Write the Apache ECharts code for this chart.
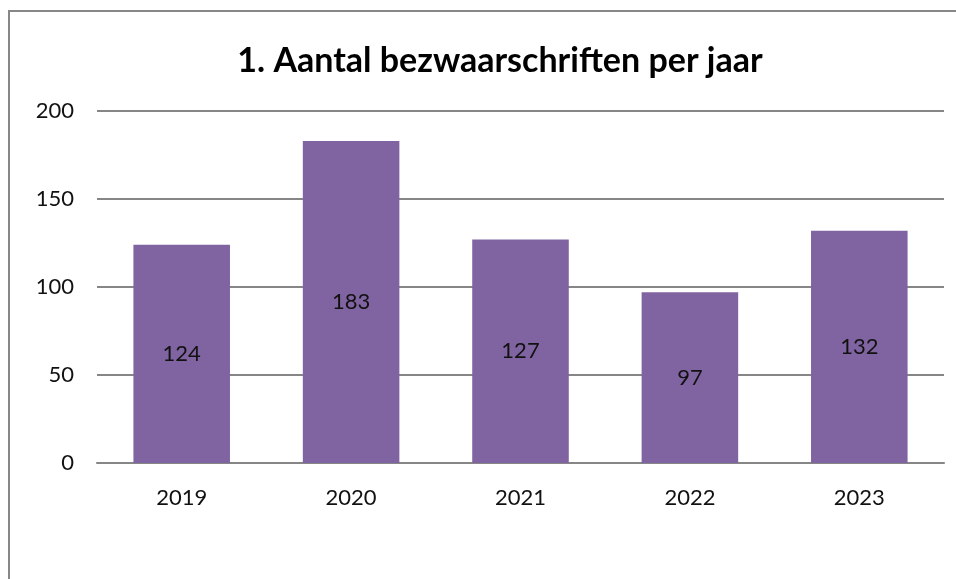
<!DOCTYPE html>
<html>
<head>
<meta charset="utf-8">
<script src="https://cdn.jsdelivr.net/npm/echarts@6/dist/echarts.min.js"></script>
<style>html,body{margin:0;padding:0;background:#fff}#c{width:956px;height:579px}</style>
</head>
<body>
<div id="c"></div>
<script>
const categories = ['2019', '2020', '2021', '2022', '2023'];
const values = [124, 183, 127, 97, 132];
const yTicks = [0, 50, 100, 150, 200];

const chart = echarts.init(document.getElementById('c'), null, {renderer: 'canvas'});
const font = 'Lato, "Open Sans", sans-serif';
chart.setOption({
  animation: false,
  backgroundColor: '#fff',
  title: {
    text: '1. Aantal bezwaarschriften per jaar',
    left: 495,
    top: 39,
    textAlign: 'center',
    textStyle: {fontFamily: font, fontSize: 34, fontWeight: 'bold', color: '#000'}
  },
  graphic: [{
    type: 'rect',
    shape: {x: 9, y: 11, width: 1100, height: 1100},
    style: {fill: 'none', stroke: '#878787', lineWidth: 2},
    silent: true
  }],
  grid: {left: 97, right: 12, top: 111, bottom: 116, containLabel: false},
  xAxis: {
    type: 'category',
    data: categories,
    axisTick: {show: false},
    axisLine: {lineStyle: {color: '#868686', width: 2}},
    axisLabel: {fontFamily: font, fontSize: 22, color: '#111', margin: 24}
  },
  yAxis: {
    type: 'value',
    min: yTicks[0],
    max: yTicks[yTicks.length - 1],
    interval: 50,
    axisLine: {show: false},
    axisTick: {show: false},
    splitLine: {lineStyle: {color: '#868686', width: 2}},
    axisLabel: {fontFamily: font, fontSize: 22, color: '#111', margin: 23}
  },
  series: [{
    type: 'bar',
    data: values,
    barWidth: '57%',
    itemStyle: {color: '#8064A2'},
    label: {show: true, position: 'inside', fontFamily: font, fontSize: 22, color: '#111'}
  }]
});
</script>
</body>
</html>
